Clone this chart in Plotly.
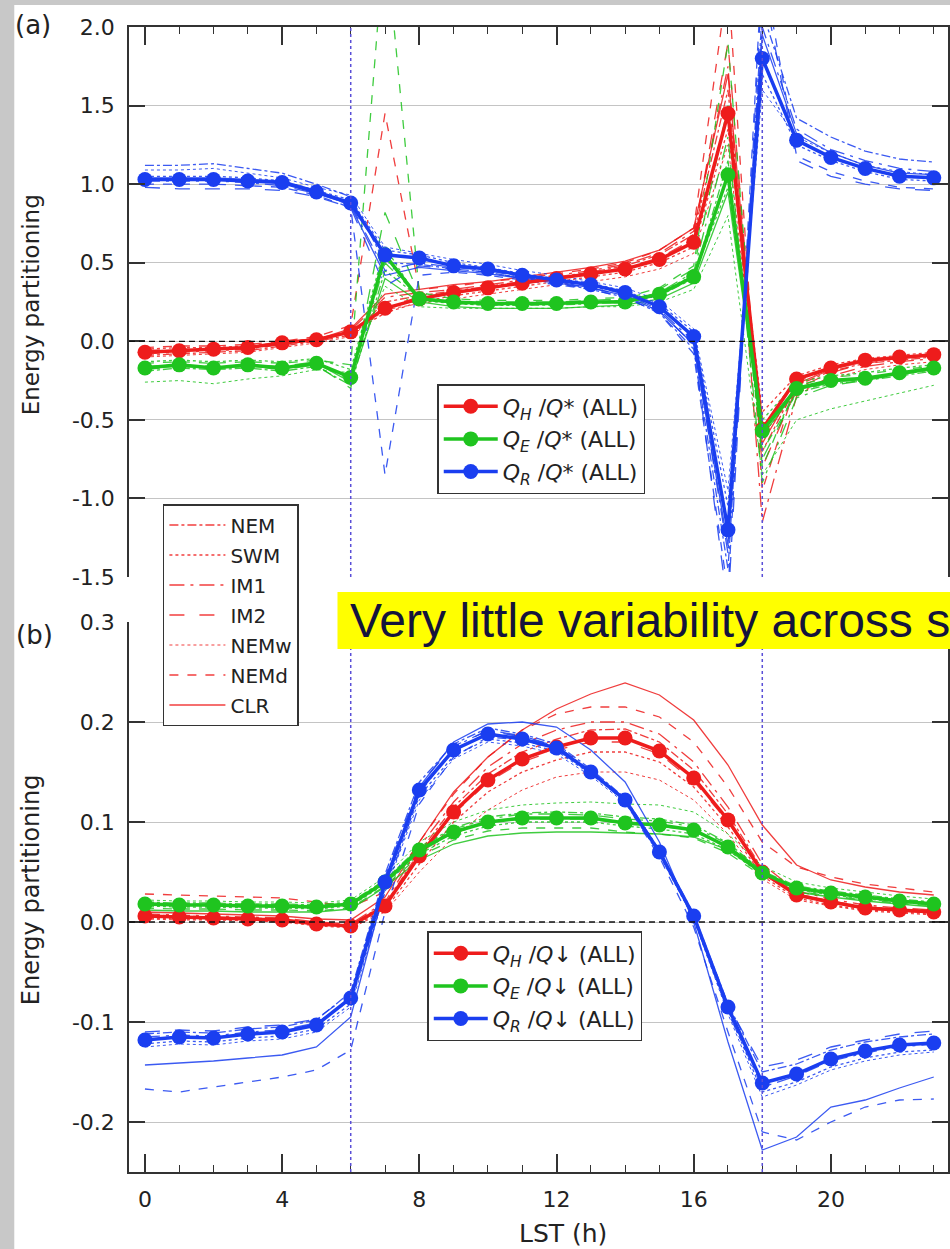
import plotly.graph_objects as go

# ---------------- data ----------------
hours = list(range(24))
seasons = ["NEM", "SWM", "IM1", "IM2", "NEMw", "NEMd", "CLR"]
season_dash = {"NEM": "dashdot", "SWM": "dot", "IM1": "longdashdot", "IM2": "longdash",
               "NEMw": "dot", "NEMd": "dash", "CLR": "solid"}

# Panel (a): ratios to Q*  (ALL)
QH_a = [-0.07, -0.06, -0.05, -0.04, -0.01, 0.01, 0.06, 0.21, 0.27, 0.31, 0.34, 0.37, 0.40, 0.43, 0.46, 0.52, 0.63, 1.45, -0.56, -0.24, -0.17, -0.12, -0.10, -0.085]
QE_a = [-0.17, -0.15, -0.17, -0.15, -0.17, -0.14, -0.23, 0.55, 0.27, 0.25, 0.24, 0.24, 0.24, 0.25, 0.25, 0.30, 0.41, 1.06, -0.57, -0.30, -0.25, -0.235, -0.20, -0.17]
QR_a = [1.03, 1.03, 1.03, 1.02, 1.01, 0.95, 0.88, 0.55, 0.53, 0.48, 0.46, 0.42, 0.39, 0.36, 0.31, 0.22, 0.03, -1.20, 1.80, 1.28, 1.17, 1.10, 1.05, 1.04]

# Panel (a): seasonal subsets
QH_a_NEM = [-0.09, -0.08, -0.07, -0.06, -0.03, 0.00, 0.04, 0.25, 0.29, 0.32, 0.35, 0.38, 0.41, 0.44, 0.48, 0.55, 0.68, 1.60, -0.70, -0.28, -0.19, -0.14, -0.12, -0.10]
QH_a_SWM = [-0.05, -0.04, -0.04, -0.03, -0.01, 0.02, 0.05, 0.18, 0.25, 0.29, 0.32, 0.35, 0.38, 0.41, 0.44, 0.50, 0.60, 1.35, -0.45, -0.22, -0.15, -0.11, -0.09, -0.07]
QH_a_IM1 = [-0.08, -0.07, -0.06, -0.05, -0.02, 0.01, 0.07, 0.28, 0.31, 0.33, 0.36, 0.39, 0.42, 0.45, 0.49, 0.56, 0.70, 1.75, -1.15, -0.35, -0.22, -0.16, -0.13, -0.11]
QH_a_IM2 = [-0.06, -0.05, -0.05, -0.04, -0.01, 0.02, 0.05, 0.22, 0.28, 0.31, 0.34, 0.37, 0.40, 0.43, 0.47, 0.53, 0.65, 1.90, -0.80, -0.30, -0.20, -0.14, -0.11, -0.09]
QH_a_NEMw = [-0.10, -0.09, -0.08, -0.07, -0.04, -0.01, 0.03, 0.20, 0.24, 0.27, 0.30, 0.33, 0.36, 0.38, 0.41, 0.46, 0.56, 1.25, -0.60, -0.33, -0.24, -0.18, -0.15, -0.13]
QH_a_NEMd = [-0.04, -0.03, -0.03, -0.02, 0.00, 0.03, 0.10, 1.45, 0.33, 0.35, 0.38, 0.40, 0.43, 0.46, 0.50, 0.58, 0.72, 2.30, -0.95, -0.26, -0.17, -0.12, -0.10, -0.08]
QH_a_CLR = [-0.07, -0.06, -0.05, -0.04, -0.02, 0.01, 0.08, 0.30, 0.33, 0.36, 0.38, 0.41, 0.44, 0.47, 0.51, 0.58, 0.72, 1.70, -0.65, -0.27, -0.18, -0.13, -0.11, -0.09]

QE_a_NEM = [-0.19, -0.17, -0.18, -0.17, -0.19, -0.16, -0.28, 0.45, 0.28, 0.24, 0.23, 0.23, 0.23, 0.24, 0.25, 0.29, 0.40, 1.15, -0.70, -0.33, -0.27, -0.25, -0.22, -0.19]
QE_a_SWM = [-0.13, -0.12, -0.13, -0.12, -0.13, -0.11, -0.18, 0.60, 0.26, 0.24, 0.23, 0.23, 0.24, 0.25, 0.26, 0.31, 0.42, 0.98, -0.50, -0.26, -0.22, -0.20, -0.17, -0.15]
QE_a_IM1 = [-0.16, -0.15, -0.16, -0.15, -0.16, -0.13, -0.25, 0.50, 0.28, 0.25, 0.24, 0.24, 0.24, 0.25, 0.26, 0.31, 0.44, 1.30, -0.90, -0.36, -0.28, -0.25, -0.21, -0.18]
QE_a_IM2 = [-0.18, -0.16, -0.17, -0.16, -0.18, -0.15, -0.30, 0.82, 0.29, 0.26, 0.25, 0.25, 0.25, 0.26, 0.27, 0.33, 0.46, 1.50, -0.75, -0.32, -0.26, -0.24, -0.21, -0.18]
QE_a_NEMw = [-0.26, -0.25, -0.27, -0.24, -0.22, -0.18, -0.20, 0.35, 0.22, 0.21, 0.21, 0.21, 0.21, 0.22, 0.22, 0.25, 0.33, 0.80, -0.85, -0.50, -0.43, -0.38, -0.33, -0.28]
QE_a_NEMd = [-0.14, -0.13, -0.14, -0.13, -0.14, -0.12, -0.15, 2.60, 0.31, 0.27, 0.26, 0.26, 0.26, 0.27, 0.28, 0.34, 0.48, 1.90, -0.80, -0.28, -0.23, -0.21, -0.18, -0.16]
QE_a_CLR = [-0.17, -0.16, -0.17, -0.16, -0.17, -0.14, -0.26, 0.40, 0.25, 0.22, 0.21, 0.21, 0.21, 0.22, 0.23, 0.27, 0.37, 0.95, -0.60, -0.31, -0.26, -0.24, -0.21, -0.18]

QR_a_NEM = [1.12, 1.12, 1.13, 1.10, 1.07, 1.00, 0.92, 0.50, 0.49, 0.46, 0.44, 0.40, 0.37, 0.33, 0.28, 0.18, -0.05, -1.45, 2.10, 1.42, 1.30, 1.21, 1.16, 1.14]
QR_a_SWM = [1.05, 1.05, 1.05, 1.04, 1.02, 0.96, 0.90, 0.58, 0.55, 0.50, 0.47, 0.43, 0.40, 0.37, 0.32, 0.24, 0.06, -1.05, 1.70, 1.25, 1.15, 1.08, 1.03, 1.02]
QR_a_IM1 = [1.02, 1.02, 1.02, 1.01, 0.99, 0.94, 0.87, 0.45, 0.50, 0.47, 0.45, 0.41, 0.38, 0.35, 0.30, 0.20, 0.00, -1.35, 2.00, 1.35, 1.22, 1.15, 1.10, 1.08]
QR_a_IM2 = [0.98, 0.97, 0.97, 0.97, 0.96, 0.92, 0.85, 0.35, 0.48, 0.46, 0.44, 0.40, 0.37, 0.34, 0.29, 0.19, -0.02, -1.70, 2.30, 1.15, 1.05, 1.00, 0.97, 0.96]
QR_a_NEMw = [1.09, 1.09, 1.10, 1.07, 1.04, 0.98, 0.93, 0.60, 0.56, 0.52, 0.49, 0.45, 0.42, 0.38, 0.34, 0.26, 0.08, -0.95, 1.60, 1.30, 1.20, 1.12, 1.08, 1.06]
QR_a_NEMd = [1.00, 1.00, 1.00, 0.99, 0.98, 0.93, 0.85, -0.85, 0.42, 0.44, 0.42, 0.39, 0.36, 0.33, 0.28, 0.18, -0.08, -1.60, 2.40, 1.18, 1.08, 1.02, 0.98, 0.97]
QR_a_CLR = [1.04, 1.04, 1.04, 1.03, 1.02, 0.96, 0.86, 0.42, 0.47, 0.45, 0.43, 0.40, 0.38, 0.34, 0.29, 0.19, -0.02, -1.30, 1.95, 1.32, 1.20, 1.12, 1.07, 1.06]

# Panel (b): ratios to Q(down)  (ALL)
QH_b = [0.006, 0.005, 0.004, 0.003, 0.002, -0.002, -0.004, 0.016, 0.066, 0.110, 0.142, 0.163, 0.175, 0.184, 0.184, 0.171, 0.144, 0.102, 0.050, 0.027, 0.020, 0.014, 0.012, 0.010]
QE_b = [0.018, 0.017, 0.017, 0.016, 0.016, 0.015, 0.018, 0.040, 0.072, 0.090, 0.100, 0.104, 0.104, 0.104, 0.099, 0.097, 0.092, 0.075, 0.049, 0.034, 0.029, 0.025, 0.021, 0.018]
QR_b = [-0.118, -0.115, -0.116, -0.112, -0.110, -0.103, -0.076, 0.040, 0.132, 0.172, 0.188, 0.183, 0.174, 0.150, 0.122, 0.070, 0.006, -0.085, -0.161, -0.152, -0.137, -0.129, -0.123, -0.121]

QH_b_NEM = [0.007, 0.006, 0.005, 0.004, 0.003, -0.001, -0.003, 0.018, 0.070, 0.115, 0.148, 0.170, 0.183, 0.192, 0.193, 0.180, 0.152, 0.108, 0.053, 0.028, 0.021, 0.015, 0.013, 0.011]
QH_b_SWM = [0.004, 0.003, 0.003, 0.002, 0.001, -0.003, -0.005, 0.012, 0.058, 0.100, 0.130, 0.150, 0.162, 0.170, 0.170, 0.160, 0.135, 0.095, 0.046, 0.024, 0.017, 0.012, 0.010, 0.008]
QH_b_IM1 = [0.008, 0.007, 0.006, 0.005, 0.004, 0.000, -0.002, 0.020, 0.075, 0.120, 0.155, 0.178, 0.192, 0.200, 0.200, 0.188, 0.160, 0.115, 0.058, 0.031, 0.023, 0.017, 0.014, 0.012]
QH_b_IM2 = [0.005, 0.004, 0.004, 0.003, 0.002, -0.002, -0.004, 0.015, 0.064, 0.108, 0.140, 0.160, 0.172, 0.180, 0.180, 0.168, 0.141, 0.100, 0.049, 0.026, 0.019, 0.013, 0.011, 0.009]
QH_b_NEMw = [0.003, 0.002, 0.002, 0.001, 0.000, -0.004, -0.006, 0.010, 0.050, 0.085, 0.112, 0.132, 0.145, 0.150, 0.150, 0.142, 0.122, 0.088, 0.043, 0.022, 0.016, 0.011, 0.009, 0.007]
QH_b_NEMd = [0.028, 0.027, 0.026, 0.025, 0.024, 0.020, 0.015, 0.030, 0.080, 0.128, 0.165, 0.192, 0.208, 0.215, 0.215, 0.205, 0.180, 0.135, 0.080, 0.055, 0.045, 0.038, 0.034, 0.030]
QH_b_CLR = [0.010, 0.009, 0.008, 0.007, 0.006, 0.003, 0.002, 0.025, 0.080, 0.130, 0.165, 0.192, 0.213, 0.228, 0.239, 0.227, 0.202, 0.157, 0.097, 0.057, 0.042, 0.035, 0.030, 0.027]

QE_b_NEM = [0.020, 0.019, 0.019, 0.018, 0.018, 0.017, 0.020, 0.042, 0.075, 0.094, 0.105, 0.109, 0.110, 0.109, 0.105, 0.103, 0.097, 0.079, 0.051, 0.036, 0.031, 0.027, 0.023, 0.020]
QE_b_SWM = [0.016, 0.015, 0.015, 0.014, 0.014, 0.013, 0.016, 0.038, 0.068, 0.086, 0.096, 0.100, 0.100, 0.100, 0.096, 0.093, 0.088, 0.072, 0.047, 0.032, 0.027, 0.023, 0.020, 0.017]
QE_b_IM1 = [0.019, 0.018, 0.018, 0.017, 0.017, 0.016, 0.019, 0.041, 0.074, 0.093, 0.103, 0.108, 0.108, 0.107, 0.103, 0.101, 0.095, 0.078, 0.050, 0.035, 0.030, 0.026, 0.022, 0.019]
QE_b_IM2 = [0.017, 0.016, 0.016, 0.015, 0.015, 0.014, 0.017, 0.039, 0.070, 0.089, 0.099, 0.103, 0.103, 0.103, 0.098, 0.096, 0.091, 0.074, 0.048, 0.033, 0.028, 0.024, 0.021, 0.018]
QE_b_NEMw = [0.022, 0.021, 0.021, 0.020, 0.020, 0.019, 0.022, 0.045, 0.080, 0.100, 0.112, 0.117, 0.119, 0.120, 0.118, 0.117, 0.110, 0.088, 0.056, 0.040, 0.034, 0.030, 0.026, 0.023]
QE_b_NEMd = [0.014, 0.013, 0.013, 0.012, 0.012, 0.011, 0.014, 0.036, 0.066, 0.082, 0.091, 0.094, 0.094, 0.094, 0.090, 0.088, 0.084, 0.069, 0.046, 0.031, 0.026, 0.022, 0.019, 0.016]
QE_b_CLR = [0.012, 0.011, 0.011, 0.010, 0.010, 0.010, 0.013, 0.035, 0.062, 0.078, 0.086, 0.089, 0.090, 0.090, 0.089, 0.088, 0.085, 0.072, 0.048, 0.030, 0.025, 0.021, 0.018, 0.015]

QR_b_NEM = [-0.112, -0.110, -0.111, -0.107, -0.105, -0.098, -0.070, 0.048, 0.140, 0.178, 0.194, 0.188, 0.178, 0.153, 0.124, 0.072, 0.008, -0.082, -0.150, -0.142, -0.128, -0.120, -0.115, -0.112]
QR_b_SWM = [-0.122, -0.119, -0.120, -0.116, -0.114, -0.107, -0.082, 0.034, 0.126, 0.166, 0.183, 0.179, 0.171, 0.148, 0.121, 0.069, 0.005, -0.088, -0.170, -0.160, -0.145, -0.136, -0.130, -0.128]
QR_b_IM1 = [-0.115, -0.113, -0.114, -0.110, -0.108, -0.101, -0.078, 0.030, 0.128, 0.175, 0.192, 0.186, 0.176, 0.151, 0.122, 0.069, 0.004, -0.090, -0.165, -0.154, -0.139, -0.131, -0.125, -0.122]
QR_b_IM2 = [-0.110, -0.108, -0.109, -0.105, -0.103, -0.097, -0.072, 0.045, 0.137, 0.176, 0.191, 0.185, 0.176, 0.152, 0.123, 0.071, 0.006, -0.083, -0.145, -0.138, -0.125, -0.118, -0.112, -0.109]
QR_b_NEMw = [-0.125, -0.122, -0.123, -0.119, -0.117, -0.110, -0.085, 0.030, 0.122, 0.163, 0.180, 0.176, 0.168, 0.146, 0.119, 0.067, 0.003, -0.092, -0.175, -0.163, -0.148, -0.139, -0.133, -0.130]
QR_b_NEMd = [-0.167, -0.170, -0.165, -0.160, -0.155, -0.148, -0.128, 0.010, 0.118, 0.165, 0.185, 0.182, 0.173, 0.150, 0.120, 0.065, -0.005, -0.110, -0.210, -0.218, -0.200, -0.185, -0.178, -0.177]
QR_b_CLR = [-0.143, -0.141, -0.139, -0.136, -0.133, -0.125, -0.095, 0.035, 0.135, 0.180, 0.198, 0.200, 0.195, 0.172, 0.140, 0.080, 0.000, -0.120, -0.228, -0.215, -0.185, -0.178, -0.166, -0.155]

season_a = {
    "QH": dict(NEM=QH_a_NEM, SWM=QH_a_SWM, IM1=QH_a_IM1, IM2=QH_a_IM2, NEMw=QH_a_NEMw, NEMd=QH_a_NEMd, CLR=QH_a_CLR),
    "QE": dict(NEM=QE_a_NEM, SWM=QE_a_SWM, IM1=QE_a_IM1, IM2=QE_a_IM2, NEMw=QE_a_NEMw, NEMd=QE_a_NEMd, CLR=QE_a_CLR),
    "QR": dict(NEM=QR_a_NEM, SWM=QR_a_SWM, IM1=QR_a_IM1, IM2=QR_a_IM2, NEMw=QR_a_NEMw, NEMd=QR_a_NEMd, CLR=QR_a_CLR),
}
season_b = {
    "QH": dict(NEM=QH_b_NEM, SWM=QH_b_SWM, IM1=QH_b_IM1, IM2=QH_b_IM2, NEMw=QH_b_NEMw, NEMd=QH_b_NEMd, CLR=QH_b_CLR),
    "QE": dict(NEM=QE_b_NEM, SWM=QE_b_SWM, IM1=QE_b_IM1, IM2=QE_b_IM2, NEMw=QE_b_NEMw, NEMd=QE_b_NEMd, CLR=QE_b_CLR),
    "QR": dict(NEM=QR_b_NEM, SWM=QR_b_SWM, IM1=QR_b_IM1, IM2=QR_b_IM2, NEMw=QR_b_NEMw, NEMd=QR_b_NEMd, CLR=QR_b_CLR),
}
main_a = {"QH": QH_a, "QE": QE_a, "QR": QR_a}
main_b = {"QH": QH_b, "QE": QE_b, "QR": QR_b}

x_ticks = [0, 4, 8, 12, 16, 20]
ya_ticks = [-1.5, -1.0, -0.5, 0.0, 0.5, 1.0, 1.5, 2.0]
yb_ticks = [-0.2, -0.1, 0.0, 0.1, 0.2, 0.3]

# ---------------- style ----------------
COL = {"QH": "#ee1c1c", "QE": "#1fc41f", "QR": "#1a3ef0"}
SUB = {"QH": "H", "QE": "E", "QR": "R"}
FONT = "DejaVu Sans"
TXT = "#222222"

W, H = 950, 1249
L, R, T, B = 129, 950, 27, 1172
A_BOT, B_TOP = 577, 622


def pxx(p):
    return (p - L) / (R - L)


def pxy(p):
    return (B - p) / (B - T)


fig = go.Figure()

# thin seasonal lines
for panel, data, xa, ya in (("a", season_a, "x", "y"), ("b", season_b, "x2", "y2")):
    for var in ("QH", "QE", "QR"):
        for s in seasons:
            show = panel == "a" and var == "QH"
            fig.add_trace(go.Scatter(
                x=hours, y=data[var][s], xaxis=xa, yaxis=ya, mode="lines",
                line=dict(color=COL[var], width=1.0 if s == "NEMw" else 1.3, dash=season_dash[s]),
                opacity=0.85, name=s, showlegend=show, legend="legend2",
                legendgroup="g_" + s if show else None, hoverinfo="skip"))

# main ALL lines
for panel, data, xa, ya, leg, den in (("a", main_a, "x", "y", "legend", "<i>Q</i>*"),
                                       ("b", main_b, "x2", "y2", "legend3", "<i>Q</i>↓")):
    for var in ("QH", "QE", "QR"):
        fig.add_trace(go.Scatter(
            x=hours, y=data[var], xaxis=xa, yaxis=ya, mode="lines+markers",
            line=dict(color=COL[var], width=3.5),
            marker=dict(color=COL[var], size=15),
            name=f"<i>Q</i><sub><i>{SUB[var]}</i></sub> /{den} (ALL)",
            legend=leg, legendgroup=panel + var))

axis_common = dict(showline=True, linecolor="#333333", linewidth=1.5,
                   tickfont=dict(family=FONT, size=22, color=TXT), tickcolor="#333333")
minor_x = dict(dtick=1, tick0=0, ticks="inside", ticklen=7, tickwidth=1.2, tickcolor="#333333", showgrid=False)

fig.update_layout(
    width=W, height=H,
    margin=dict(l=L, r=W - R, t=T, b=H - B),
    paper_bgcolor="#c8c8c8", plot_bgcolor="rgba(0,0,0,0)",
    font=dict(family=FONT, size=22, color=TXT),
    xaxis=dict(anchor="y", side="top", range=[-0.465, 23.415], showticklabels=False,
               tickmode="linear", tick0=0, dtick=4, ticks="inside", ticklen=18, tickwidth=1.5,
               showgrid=False, zeroline=False, minor=minor_x, **axis_common),
    xaxis2=dict(anchor="y2", side="bottom", range=[-0.465, 23.415], matches="x",
                tickvals=x_ticks, ticktext=[str(v) for v in x_ticks], ticks="inside", ticklen=18,
                tickwidth=1.5, showgrid=False, zeroline=False, ticklabelstandoff=7,
                minor=minor_x, **axis_common),
    yaxis=dict(domain=[pxy(A_BOT), 1], range=[-1.5, 2.0], tickvals=ya_ticks,
               ticktext=[f"{v:.1f}" for v in ya_ticks], ticks="inside", ticklen=16, tickwidth=1.5,
               mirror="ticks", showgrid=True, gridcolor="#c4c4c4", gridwidth=1, zeroline=False,
               ticklabelstandoff=8, **axis_common),
    yaxis2=dict(domain=[0, pxy(B_TOP)], range=[-0.25, 0.3], tickvals=yb_ticks,
                ticktext=[f"{v:.1f}" for v in yb_ticks], ticks="inside", ticklen=16, tickwidth=1.5,
                mirror="ticks", showgrid=True, gridcolor="#c4c4c4", gridwidth=1, zeroline=False,
                ticklabelstandoff=8, **axis_common),
    legend=dict(x=pxx(438), y=pxy(384), xanchor="left", yanchor="top", bgcolor="white",
                bordercolor="#333333", borderwidth=1.5, font=dict(family=FONT, size=22, color=TXT),
                itemwidth=54, tracegroupgap=1),
    legend2=dict(x=pxx(163), y=pxy(504), xanchor="left", yanchor="top", bgcolor="white",
                 bordercolor="#333333", borderwidth=1.5, font=dict(family=FONT, size=20, color=TXT),
                 itemwidth=56, tracegroupgap=1),
    legend3=dict(x=pxx(428), y=pxy(931), xanchor="left", yanchor="top", bgcolor="white",
                 bordercolor="#333333", borderwidth=1.5, font=dict(family=FONT, size=22, color=TXT),
                 itemwidth=54, tracegroupgap=1),
)

shapes = [
    # white page over grey border
    dict(type="rect", xref="paper", yref="paper", x0=pxx(14), x1=pxx(W + 5), y0=pxy(H + 5), y1=pxy(5),
         fillcolor="white", line=dict(width=0), layer="below"),
]
# zero lines and vertical dotted markers
for xa, ya in (("x", "y"), ("x2", "y2")):
    shapes.append(dict(type="line", xref=xa + " domain", yref=ya, x0=0, x1=1, y0=0, y1=0,
                       line=dict(color="#111111", width=1.3, dash="6px,4px")))
    for xv in (6, 18):
        shapes.append(dict(type="line", xref=xa, yref=ya + " domain", x0=xv, x1=xv, y0=0, y1=1,
                           line=dict(color="#5a4fd8", width=1.5, dash="dot")))
# yellow callout box
shapes.append(dict(type="rect", xref="paper", yref="paper", x0=pxx(338), x1=pxx(W + 5),
                   y0=pxy(649), y1=pxy(592), fillcolor="#ffff00", line=dict(width=0), layer="above"))
fig.update_layout(shapes=shapes)

ann = [
    dict(text="(a)", x=pxx(33), y=pxy(25), size=26),
    dict(text="(b)", x=pxx(34), y=pxy(635), size=26),
    dict(text="Energy partitioning", x=pxx(31), y=pxy(305), textangle=-90, size=23),
    dict(text="Energy partitioning", x=pxx(31), y=pxy(890), textangle=-90, size=24),
    dict(text="LST (h)", x=pxx(564), y=pxy(1233), size=25),
]
annotations = []
for a in ann:
    sz = a.pop("size")
    a.update(xref="paper", yref="paper", showarrow=False, xanchor="center", yanchor="middle",
             font=dict(family=FONT, size=sz, color=TXT))
    annotations.append(a)
annotations.append(dict(text="Very little variability across s", xref="paper", yref="paper",
                        x=pxx(349), y=pxy(620), xanchor="left", yanchor="middle", showarrow=False,
                        font=dict(family="Liberation Sans", size=48, color="#14143c")))
fig.update_layout(annotations=annotations)

fig.write_html("out.html")
